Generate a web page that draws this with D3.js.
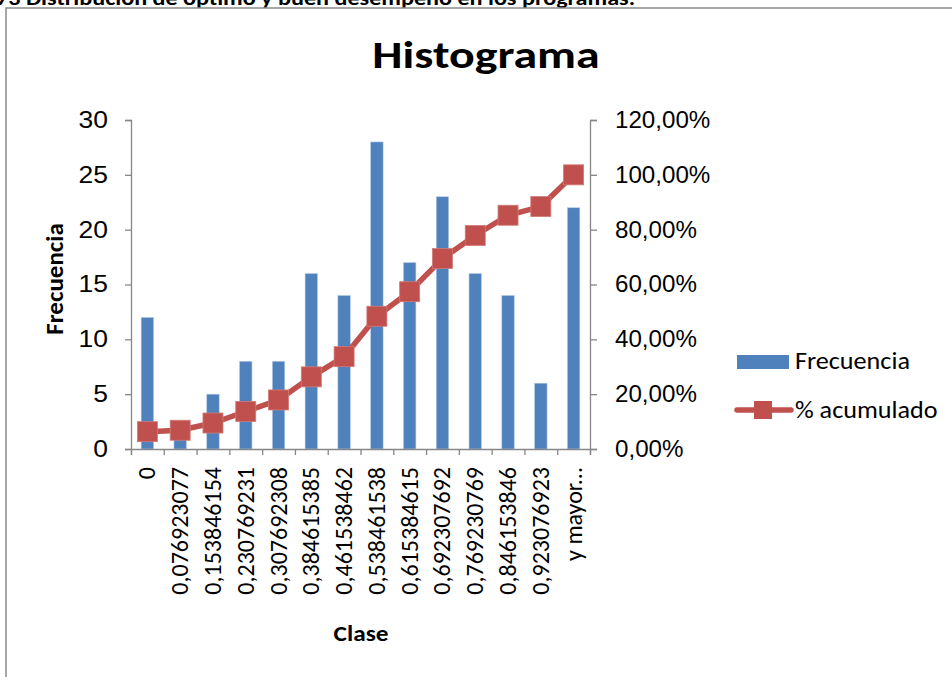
<!DOCTYPE html>
<meta charset="utf-8">
<title>Histograma</title>
<style>
body { margin: 0; background: #fff; }
svg { display: block; font-family: Carlito, Calibri, Lato, sans-serif; }
.axis path, .axis line { fill: none; stroke: #868686; stroke-width: 1.3; }
.axis text { fill: #000; font-size: 23px; }
.xlab text { font-size: 24px; }
</style>
<body>
<script src="https://d3js.org/d3.v7.min.js"></script>
<script>

var clases = ["0", "0,076923077", "0,153846154", "0,230769231", "0,307692308",
  "0,384615385", "0,461538462", "0,538461538", "0,615384615", "0,692307692",
  "0,769230769", "0,846153846", "0,923076923", "y mayor..."];
var frecuencia = [12, 1, 5, 8, 8, 16, 14, 28, 17, 23, 16, 14, 6, 22];
var acumulado = [6.32, 6.84, 9.47, 13.68, 17.89, 26.32, 33.68, 48.42, 57.37, 69.47, 77.89, 85.26, 88.42, 100];
var freqTicks = [0, 5, 10, 15, 20, 25, 30];
var pctTicks = [0, 20, 40, 60, 80, 100, 120];

var width = 952, height = 677;
var plotLeft = 131, plotRight = 590, plotTop = 120, plotBottom = 449;

var svg = d3.select("body").append("svg")
    .attr("width", width)
    .attr("height", height);

// horizontal text, slightly widened like the original picture
function label(px, py, txt, size, sx, anchor, bold) {
  return svg.append("text")
      .attr("transform", "translate(" + px + "," + py + ") scale(" + sx + ",1)")
      .attr("text-anchor", anchor || "start")
      .style("font-size", size + "px")
      .style("font-weight", bold ? "bold" : null)
      .text(txt);
}

// widen the tick labels of an axis group
function widen(g, sx) {
  g.selectAll("text")
      .attr("x", function() { return +this.getAttribute("x") / sx; })
      .attr("transform", "scale(" + sx + ",1)");
}

// caption cut off at the top of the page
label(-4, 5, "73 Distribución de óptimo y buen desempeño en los programas.", 21, 1.15, "start", true);

// chart frame
svg.append("rect")
    .attr("x", 6)
    .attr("y", 8)
    .attr("width", 960)
    .attr("height", 700)
    .attr("fill", "none")
    .attr("stroke", "#8a8a8a")
    .attr("stroke-width", 1.5);

var x = d3.scaleBand()
    .domain(clases)
    .range([plotLeft, plotRight]);

var xTick = d3.scaleLinear()
    .domain([0, clases.length])
    .range([plotLeft, plotRight]);

var y = d3.scaleLinear()
    .domain([0, 30])
    .range([plotBottom, plotTop]);

var y2 = d3.scaleLinear()
    .domain([0, 120])
    .range([plotBottom, plotTop]);

// title
label(486, 68, "Histograma", 38, 1.26, "middle", true);

// bars
var barW = x.bandwidth() * 0.38;
svg.selectAll(".bar")
    .data(frecuencia)
  .enter().append("rect")
    .attr("class", "bar")
    .attr("x", function(d, i) { return x(clases[i]) + x.bandwidth() / 2 - barW / 2; })
    .attr("y", function(d) { return y(d); })
    .attr("width", barW)
    .attr("height", function(d) { return plotBottom - y(d); })
    .attr("fill", "#4f81bd")
    .attr("stroke", "#b9cde5")
    .attr("stroke-width", 0.6);

// axes
var gLeft = svg.append("g")
    .attr("class", "axis")
    .attr("transform", "translate(" + plotLeft + ",0)")
    .call(d3.axisLeft(y).tickValues(freqTicks).tickSizeOuter(0).tickSize(6).tickPadding(17));
widen(gLeft, 1.15);

var gRight = svg.append("g")
    .attr("class", "axis")
    .attr("transform", "translate(" + plotRight + ",0)")
    .call(d3.axisRight(y2).tickValues(pctTicks).tickSizeOuter(0).tickSize(7).tickPadding(18)
      .tickFormat(function(d) { return d + ",00%"; }));
widen(gRight, 1.05);

svg.append("g")
    .attr("class", "axis")
    .attr("transform", "translate(0," + plotBottom + ")")
    .call(d3.axisBottom(xTick).tickValues(d3.range(clases.length + 1)).tickSizeOuter(0).tickSize(6).tickFormat(""));

svg.append("g")
    .attr("class", "axis xlab")
    .selectAll("text")
    .data(clases)
  .enter().append("text")
    .attr("transform", function(d) {
      return "translate(" + (x(d) + x.bandwidth() / 2 + 8) + "," + (plotBottom + 18) + ") rotate(-90)";
    })
    .attr("text-anchor", "end")
    .text(function(d) { return d; });

// cumulative line
var line = d3.line()
    .x(function(d, i) { return x(clases[i]) + x.bandwidth() / 2; })
    .y(function(d) { return y2(d); });

svg.append("path")
    .datum(acumulado)
    .attr("d", line)
    .attr("fill", "none")
    .attr("stroke", "#c0504d")
    .attr("stroke-width", 5.5);

svg.selectAll(".marker")
    .data(acumulado)
  .enter().append("rect")
    .attr("class", "marker")
    .attr("x", function(d, i) { return x(clases[i]) + x.bandwidth() / 2 - 10; })
    .attr("y", function(d) { return y2(d) - 10; })
    .attr("width", 20)
    .attr("height", 20)
    .attr("fill", "#c0504d")
    .attr("stroke", "#d27a77")
    .attr("stroke-width", 0.8);

// axis titles
svg.append("text")
    .attr("transform", "translate(63,279) rotate(-90)")
    .attr("text-anchor", "middle")
    .style("font-size", "25px")
    .style("font-weight", "bold")
    .text("Frecuencia");

label(361, 641, "Clase", 23, 1.1, "middle", true);

// legend
var legend = svg.append("g");
legend.append("rect")
    .attr("x", 737)
    .attr("y", 355)
    .attr("width", 52)
    .attr("height", 14)
    .attr("fill", "#4f81bd");
label(795, 369, "Frecuencia", 24, 1.09);
legend.append("line")
    .attr("x1", 737)
    .attr("x2", 791)
    .attr("y1", 410)
    .attr("y2", 410)
    .attr("stroke", "#c0504d")
    .attr("stroke-width", 5.5)
    .attr("stroke-linecap", "round");
legend.append("rect")
    .attr("x", 754)
    .attr("y", 401)
    .attr("width", 18)
    .attr("height", 18)
    .attr("fill", "#c0504d");
label(795, 418, "% acumulado", 24, 1.09);

</script>
</body>
